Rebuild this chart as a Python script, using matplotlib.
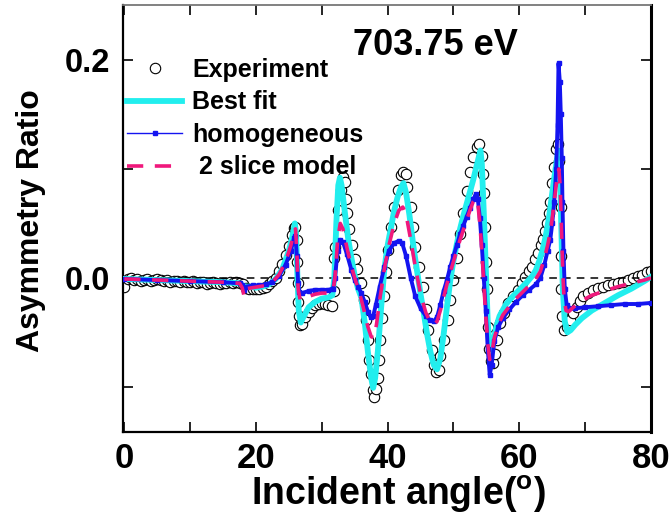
import matplotlib
matplotlib.use("Agg")
import matplotlib.pyplot as plt
from matplotlib.lines import Line2D
from matplotlib.ticker import MultipleLocator, FixedLocator

plt.rcParams['font.family'] = ['Liberation Sans', 'DejaVu Sans']
plt.rcParams['font.weight'] = 'bold'
plt.rcParams['mathtext.fontset'] = 'custom'
plt.rcParams['mathtext.rm'] = 'Liberation Sans:bold'
plt.rcParams['mathtext.bf'] = 'Liberation Sans:bold'

title_text = "703.75 eV"
x_label = r"Incident angle($\mathregular{^o}$)"
y_label = "Asymmetry Ratio"
series_names = ["Experiment", "Best fit", "homogeneous", " 2 slice model"]

exp_angle = [0, 0.5, 1, 1.5, 2, 2.5, 3, 3.5, 4, 4.5, 5, 5.5, 6, 6.5, 7, 7.5, 8, 8.5, 9, 9.5,
             10, 10.5, 11, 11.5, 12, 12.5, 13, 13.5, 14, 14.5, 15, 15.5, 16, 16.5, 17, 17.5,
             18, 18.5, 19, 19.5, 20, 20.5, 21, 21.5, 22, 22.5, 23, 23.5, 24, 24.5, 25, 25.5,
             25.8, 26.0, 26.2, 26.3, 26.35, 26.45, 26.55, 26.7, 27.0, 27.5, 28.0, 28.5, 29,
             29.5, 30, 30.5, 31, 31.5, 31.8, 31.9, 32.0, 32.4, 32.9, 33.2, 33.5, 33.7, 33.9,
             34.2, 34.6, 35.0, 35.4, 35.9, 36.4, 36.7, 37.0, 37.2, 37.4, 37.7, 37.9, 38.2,
             38.5, 38.7, 38.9, 39.1, 39.4, 39.7, 40.0, 40.5, 40.9, 41.5, 42.0, 42.4, 42.8,
             43.0, 43.5, 43.8, 44.2, 44.7, 45.3, 45.8, 46.2, 46.8, 47.0, 47.4, 47.8, 48.0,
             48.5, 49.1, 49.5, 50.0, 50.5, 51.0, 51.5, 52.0, 52.5, 53.0, 53.5, 53.9, 54.3,
             54.5, 54.6, 54.8, 55.0, 55.1, 55.2, 55.4, 55.7, 56.0, 56.3, 56.6, 57.1, 57.6,
             58.3, 59.1, 59.8, 60.4, 60.9, 61.4, 62.0, 62.4, 62.9, 63.3, 63.6, 63.9, 64.2,
             64.5, 64.7, 65.0, 65.2, 65.5, 65.8, 66.1, 66.3, 66.35, 66.4, 66.5, 66.8, 67.2,
             67.7, 68.2, 68.8, 69.2, 69.7, 70.4, 71.2, 72.0, 72.7, 73.5, 74.2, 75.0, 75.8,
             76.5, 77.3, 78.0, 78.7, 79.4, 80]
exp_ratio = [-0.008, -0.001, 0.000, -0.002, -0.001, -0.003, -0.002, -0.001, -0.003, -0.002,
             -0.001, -0.002, -0.003, -0.002, -0.004, -0.003, -0.003, -0.004, -0.003, -0.004,
             -0.004, -0.003, -0.005, -0.004, -0.004, -0.006, -0.005, -0.004, -0.005, -0.006,
             -0.005, -0.005, -0.004, -0.005, -0.004, -0.005, -0.006, -0.009, -0.010, -0.010,
             -0.010, -0.010, -0.009, -0.008, -0.006, -0.003, 0.000, 0.006, 0.013, 0.021,
             0.029, 0.039, 0.046, 0.047, 0.035, 0.015, -0.005, -0.022, -0.035, -0.043,
             -0.042, -0.036, -0.031, -0.028, -0.025, -0.024, -0.023, -0.024, -0.025, -0.026,
             -0.012, 0.018, 0.028, 0.062, 0.081, 0.093, 0.088, 0.072, 0.060, 0.045, 0.030,
             0.017, 0.008, -0.005, -0.020, -0.039, -0.057, -0.075, -0.088, -0.103, -0.109,
             -0.102, -0.092, -0.075, -0.057, -0.037, -0.017, 0.005, 0.026, 0.047, 0.065,
             0.081, 0.094, 0.097, 0.095, 0.083, 0.065, 0.047, 0.028, 0.010, -0.008, -0.029,
             -0.048, -0.066, -0.080, -0.086, -0.085, -0.072, -0.057, -0.039, -0.020, -0.002,
             0.018, 0.040, 0.060, 0.080, 0.097, 0.111, 0.120, 0.123, 0.112, 0.095, 0.078,
             0.047, 0.015, -0.010, -0.045, -0.065, -0.076, -0.078, -0.070, -0.057, -0.041,
             -0.032, -0.023, -0.017, -0.011, -0.005, 0.001, 0.006, 0.010, 0.017, 0.023,
             0.030, 0.036, 0.043, 0.050, 0.060, 0.070, 0.087, 0.102, 0.118, 0.123, 0.107,
             0.065, 0.020, -0.010, -0.035, -0.048, -0.045, -0.039, -0.032, -0.027, -0.021,
             -0.017, -0.014, -0.011, -0.009, -0.008, -0.007, -0.006, -0.005, -0.004, -0.002,
             0.000, 0.002, 0.003, 0.005, 0.006]

fit_angle = [0, 5, 10, 15, 17.5, 18, 18.3, 19, 20, 21, 22, 23, 24, 25, 25.5, 25.9, 26.1, 26.3,
             26.5, 26.8, 27.2, 28, 29, 30, 31, 31.6, 31.9, 32.2, 32.5, 32.75, 33.0, 33.5, 34,
             34.5, 35, 35.5, 36, 36.5, 37, 37.5, 37.8, 38.1, 38.5, 39, 39.5, 40, 40.5, 41,
             41.5, 42, 42.4, 42.8, 43.3, 44, 44.5, 45, 45.5, 46, 46.5, 47, 47.5, 48, 48.5, 49,
             49.5, 50, 50.5, 51, 51.5, 52, 52.5, 53, 53.6, 54.1, 54.3, 54.6, 54.9, 55.2, 55.5,
             55.7, 56, 56.5, 57, 58, 59, 60, 61, 62, 62.5, 63, 63.5, 64, 64.5, 65, 65.5, 65.9,
             66.2, 66.4, 66.6, 66.9, 67.3, 67.8, 68.5, 69.5, 71, 73, 75, 77, 79, 80]
fit_ratio = [-0.001, -0.002, -0.003, -0.004, -0.005, -0.007, -0.008, -0.008, -0.009, -0.008,
             -0.006, -0.001, 0.008, 0.025, 0.037, 0.050, 0.040, 0.000, -0.030, -0.041, -0.036,
             -0.027, -0.022, -0.019, -0.018, -0.016, 0.000, 0.050, 0.085, 0.092, 0.085, 0.060,
             0.036, 0.018, 0.002, -0.010, -0.018, -0.040, -0.068, -0.092, -0.101, -0.092,
             -0.068, -0.028, 0.008, 0.030, 0.046, 0.062, 0.074, 0.083, 0.087, 0.078, 0.058,
             0.025, 0.005, -0.015, -0.033, -0.052, -0.068, -0.080, -0.084, -0.074, -0.052,
             -0.027, -0.003, 0.016, 0.031, 0.045, 0.057, 0.068, 0.079, 0.090, 0.105, 0.117,
             0.105, 0.060, 0.010, -0.040, -0.066, -0.069, -0.060, -0.045, -0.035, -0.024,
             -0.017, -0.011, -0.005, 0.002, 0.007, 0.015, 0.025, 0.038, 0.055, 0.078, 0.100,
             0.117, 0.090, 0.040, -0.010, -0.040, -0.050, -0.048, -0.043, -0.037, -0.030,
             -0.023, -0.016, -0.010, -0.003, 0.001]

hom_angle = [0, 5, 10, 15, 17.5, 17.9, 18.2, 18.6, 19.5, 20.5, 21.5, 22.5, 23.5, 24.5, 25.3,
             25.8, 26.0, 26.2, 26.4, 26.6, 27, 28, 29, 30, 31, 31.7, 32.0, 32.4, 32.8, 33.2,
             33.8, 34.5, 35, 35.5, 36, 36.5, 37, 37.4, 37.8, 38.2, 38.8, 39.5, 40.2, 41, 41.7,
             42.2, 42.8, 43.5, 44.2, 45, 45.8, 46.5, 47, 47.5, 48, 48.5, 49, 49.5, 50, 50.5,
             51, 51.5, 52, 52.5, 53, 53.4, 53.7, 54.0, 54.3, 54.6, 54.9, 55.2, 55.5, 55.8,
             56.2, 56.8, 57.5, 58.5, 59.5, 60.5, 61.5, 62.5, 63.2, 63.8, 64.3, 64.7, 65.0,
             65.3, 65.6, 65.8, 65.95, 66.15, 66.3, 66.45, 66.55, 66.7, 66.9, 67.2, 67.6, 68.5,
             70, 72, 74, 76, 78, 80]
hom_ratio = [-0.001, -0.002, -0.003, -0.004, -0.005, -0.007, -0.011, -0.008, -0.007, -0.007,
             -0.006, -0.004, 0.002, 0.012, 0.025, 0.037, 0.038, 0.020, -0.005, -0.013, -0.014,
             -0.012, -0.011, -0.011, -0.011, -0.010, 0.000, 0.025, 0.035, 0.033, 0.022, 0.007,
             -0.002, -0.008, -0.014, -0.022, -0.031, -0.036, -0.035, -0.025, -0.008, 0.010,
             0.025, 0.032, 0.034, 0.032, 0.020, 0.000, -0.017, -0.028, -0.035, -0.039, -0.040,
             -0.036, -0.025, -0.012, -0.002, 0.010, 0.020, 0.030, 0.040, 0.048, 0.056, 0.064,
             0.072, 0.077, 0.072, 0.055, 0.030, 0.000, -0.030, -0.065, -0.089, -0.080, -0.058,
             -0.045, -0.037, -0.029, -0.022, -0.016, -0.011, -0.006, 0.000, 0.012, 0.025,
             0.035, 0.050, 0.070, 0.100, 0.140, 0.197, 0.180, 0.150, 0.110, 0.070, 0.025,
             -0.010, -0.025, -0.028, -0.028, -0.027, -0.026, -0.025, -0.024, -0.024, -0.023]

two_angle = [0, 5, 10, 15, 17.5, 17.9, 18.2, 18.5, 19.5, 20.5, 21.5, 22.5, 23.5, 24.5, 25.3,
             25.8, 26.0, 26.2, 26.4, 26.7, 27.2, 28, 29, 30, 31, 31.7, 32.0, 32.4, 32.8, 33.2,
             33.8, 34.5, 35, 35.5, 36, 36.5, 37, 37.5, 37.9, 38.3, 38.8, 39.5, 40.2, 41, 41.7,
             42.3, 42.8, 43.5, 44.2, 45, 45.8, 46.5, 47, 47.5, 48, 48.5, 49, 49.5, 50, 50.5,
             51, 51.5, 52, 52.5, 53, 53.4, 53.7, 54, 54.3, 54.6, 54.9, 55.2, 55.5, 55.8, 56.2,
             56.8, 57.5, 58.5, 59.5, 60.5, 61.5, 62.5, 63.2, 63.8, 64.3, 64.7, 65.0, 65.4,
             65.8, 66.0, 66.2, 66.4, 66.6, 66.8, 67.1, 67.5, 68.2, 69.5, 71, 73, 75, 77, 79, 80]
two_ratio = [-0.001, -0.002, -0.003, -0.004, -0.005, -0.009, -0.017, -0.010, -0.009, -0.008,
             -0.007, -0.004, 0.003, 0.015, 0.030, 0.043, 0.045, 0.025, -0.010, -0.020, -0.019,
             -0.017, -0.015, -0.014, -0.014, -0.012, 0.000, 0.035, 0.050, 0.045, 0.028, 0.010,
             0.000, -0.010, -0.020, -0.032, -0.045, -0.054, -0.055, -0.043, -0.020, 0.008,
             0.030, 0.050, 0.062, 0.065, 0.058, 0.035, 0.010, -0.015, -0.032, -0.041, -0.043,
             -0.040, -0.030, -0.018, -0.006, 0.005, 0.015, 0.025, 0.035, 0.044, 0.053, 0.062,
             0.070, 0.073, 0.068, 0.050, 0.025, -0.005, -0.035, -0.060, -0.075, -0.070,
             -0.055, -0.043, -0.034, -0.026, -0.019, -0.013, -0.007, -0.001, 0.006, 0.018,
             0.030, 0.042, 0.055, 0.075, 0.095, 0.100, 0.085, 0.045, 0.005, -0.020, -0.030,
             -0.031, -0.027, -0.021, -0.016, -0.012, -0.008, -0.005, -0.002, 0.000]

c_exp = 'black'
c_fit = '#22EEEE'
c_hom = '#1414F0'
c_two = '#F0187C'

fig = plt.figure(figsize=(6.72, 5.18), dpi=100)
ax = fig.add_axes([123/672, 1-432/518, 528/672, 427/518])

ax.plot(exp_angle, exp_ratio, linestyle='none', marker='o', markersize=7.5,
        markerfacecolor='white', markeredgecolor=c_exp, markeredgewidth=0.8, zorder=2)
ax.axhline(0, color='black', lw=1.1, dashes=(5, 4), zorder=3)
ax.plot(fit_angle, fit_ratio, color=c_fit, lw=4.2, zorder=4, solid_joinstyle='round')
ax.plot(hom_angle, hom_ratio, color=c_hom, lw=2.8, marker='s', markersize=2.6,
        zorder=5, solid_joinstyle='round')
ax.plot(two_angle, two_ratio, color=c_two, lw=2.6, dashes=(4.5, 3.2), zorder=6)

ax.set_xlim(-0.2, 80)
ax.set_ylim(-0.1415, 0.2505)
ax.xaxis.set_major_locator(MultipleLocator(20))
ax.xaxis.set_minor_locator(MultipleLocator(10))
ax.yaxis.set_major_locator(FixedLocator([0.0, 0.2]))
ax.yaxis.set_minor_locator(FixedLocator([-0.1, 0.1]))
ax.yaxis.set_major_formatter(matplotlib.ticker.FormatStrFormatter('%.1f'))

ax.tick_params(which='both', direction='in', top=True, right=True, length=7, width=1.2)
ax.tick_params(axis='x', which='major', labelsize=25, pad=7)
ax.tick_params(axis='y', which='major', labelsize=23.5, pad=9)
for lab in ax.get_xticklabels() + ax.get_yticklabels():
    lab.set_fontweight('bold')

for side in ['left', 'bottom']:
    ax.spines[side].set_linewidth(1.6)
ax.spines['right'].set_linewidth(2.2)
ax.spines['top'].set_linewidth(1.3)
ax.spines['top'].set_color('#777777')

ax.set_xlabel(x_label, fontsize=27, fontweight='bold')
ax.xaxis.set_label_coords(0.521, -0.098)
ax.set_ylabel(y_label, fontsize=23, fontweight='bold')
ax.yaxis.set_label_coords(-0.145, 0.496)

fig.text(435/672, 1-55/518, title_text, fontsize=26, fontweight='bold',
         ha='center', va='baseline')

handles = [
    Line2D([], [], linestyle='none', marker='o', markersize=7.5, markerfacecolor='white',
           markeredgecolor=c_exp, markeredgewidth=0.8),
    Line2D([], [], color=c_fit, lw=4.2),
    Line2D([], [], color=c_hom, lw=1.0, marker='s', markersize=2.6),
    Line2D([], [], color=c_two, lw=2.6, dashes=(4.5, 3.2)),
]
leg = ax.legend(handles, series_names, loc='upper left', bbox_to_anchor=(0.0076, 0.876),
                frameon=False, fontsize=18, handlelength=2.2, handletextpad=0.4,
                labelspacing=0.34, borderpad=0, borderaxespad=0, numpoints=1,
                prop={'weight': 'bold', 'size': 18})

fig.savefig('out.png', dpi=100)
